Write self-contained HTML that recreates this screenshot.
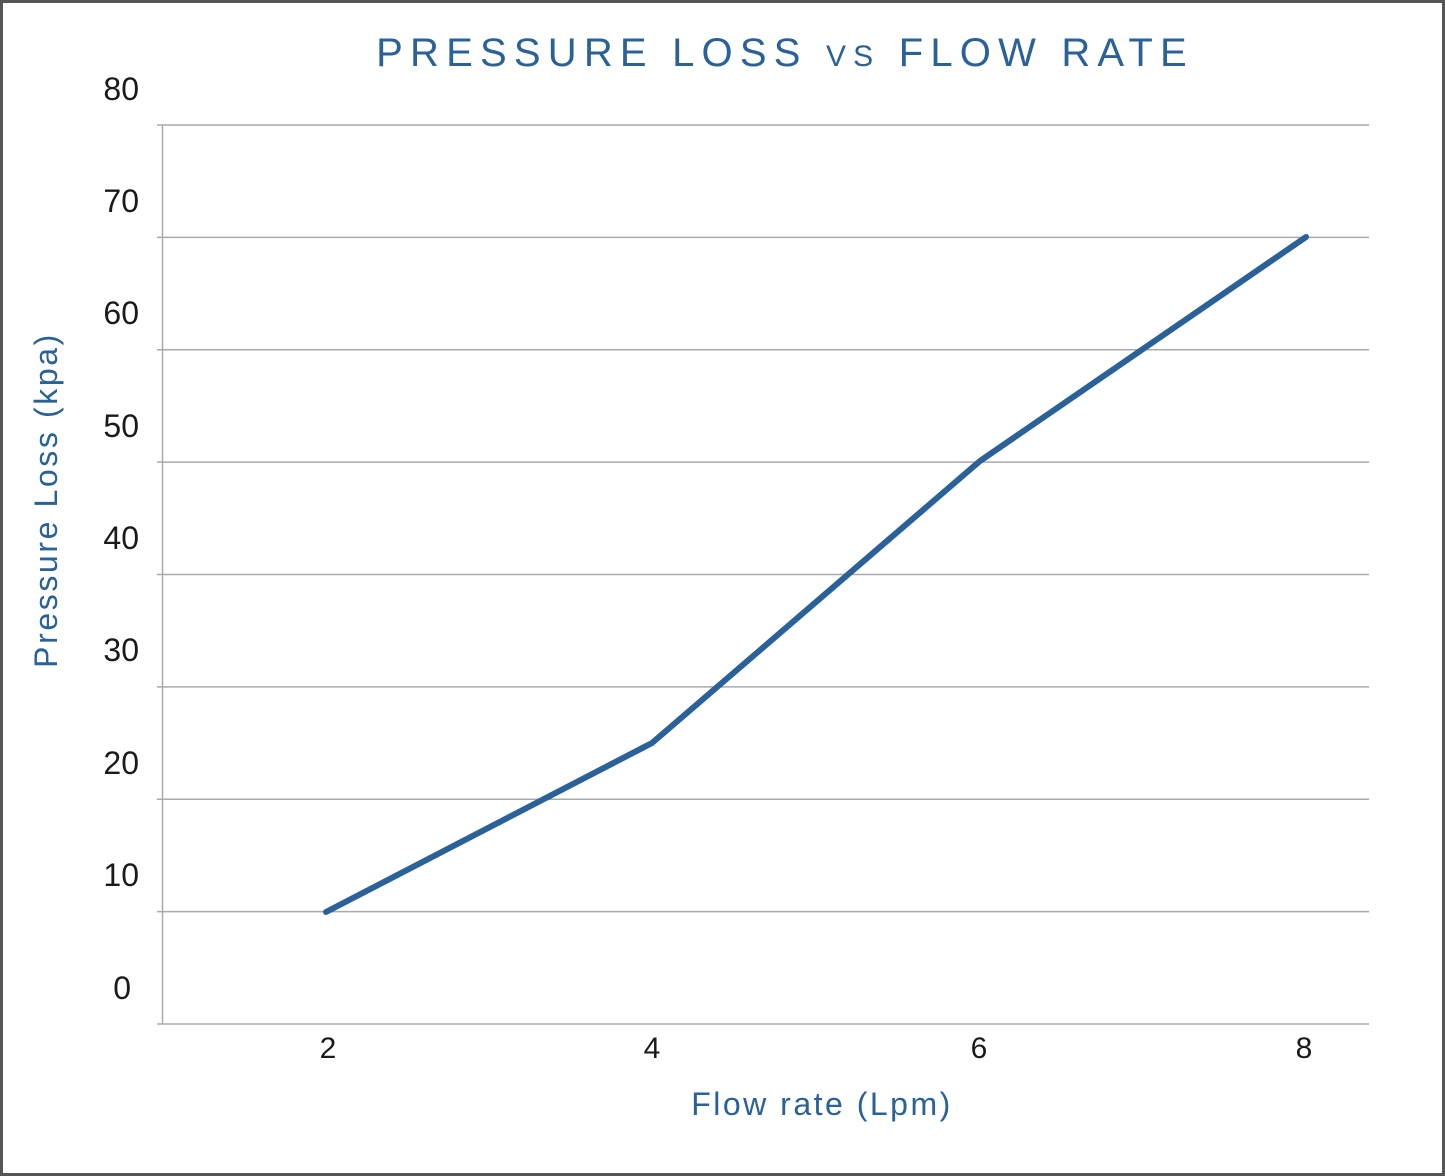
<!DOCTYPE html>
<html><head><meta charset="utf-8"><style>
html,body{margin:0;padding:0;background:#fff;}
svg{display:block;}
</style></head><body>
<svg width="1445" height="1176" xmlns="http://www.w3.org/2000/svg">
<rect x="1.5" y="1.5" width="1442" height="1173" fill="#fff" stroke="#555" stroke-width="3"/>
<text x="785" y="66" text-anchor="middle" font-family="Liberation Sans, sans-serif" font-size="40" fill="#2a6199" letter-spacing="7.2">PRESSURE LOSS <tspan font-size="30">VS</tspan> FLOW RATE</text>
<g stroke="#a9a9a9" stroke-width="1.5">
<line x1="157" y1="125" x2="1369" y2="125"/>
<line x1="157" y1="237.4" x2="1369" y2="237.4"/>
<line x1="157" y1="349.8" x2="1369" y2="349.8"/>
<line x1="157" y1="462.1" x2="1369" y2="462.1"/>
<line x1="157" y1="574.5" x2="1369" y2="574.5"/>
<line x1="157" y1="686.9" x2="1369" y2="686.9"/>
<line x1="157" y1="799.3" x2="1369" y2="799.3"/>
<line x1="157" y1="911.6" x2="1369" y2="911.6"/>
<line x1="157" y1="1024" x2="1369" y2="1024"/>
<line x1="162.5" y1="125" x2="162.5" y2="1024"/>
</g>
<g font-family="Liberation Sans, sans-serif" font-size="32" fill="#1a1a1a" text-anchor="end">
<text x="139" y="100">80</text>
<text x="139" y="212">70</text>
<text x="139" y="324">60</text>
<text x="139" y="437">50</text>
<text x="139" y="549">40</text>
<text x="139" y="661">30</text>
<text x="139" y="774">20</text>
<text x="139" y="886">10</text>
<text x="131" y="999">0</text>
</g>
<g font-family="Liberation Sans, sans-serif" font-size="30" fill="#1a1a1a" text-anchor="middle">
<text x="328" y="1058">2</text>
<text x="652" y="1058">4</text>
<text x="979" y="1058">6</text>
<text x="1304" y="1058">8</text>
</g>
<text x="822" y="1115" text-anchor="middle" font-family="Liberation Sans, sans-serif" font-size="32" fill="#2a6199" letter-spacing="2.5">Flow rate (Lpm)</text>
<text transform="translate(57,500) rotate(-90)" text-anchor="middle" font-family="Liberation Sans, sans-serif" font-size="32" fill="#2a6199" letter-spacing="2.6">Pressure Loss (kpa)</text>
<polyline points="326,912 652,743 980,461 1306,237" fill="none" stroke="#2a6199" stroke-width="6" stroke-linejoin="round" stroke-linecap="round"/>
</svg>
</body></html>
